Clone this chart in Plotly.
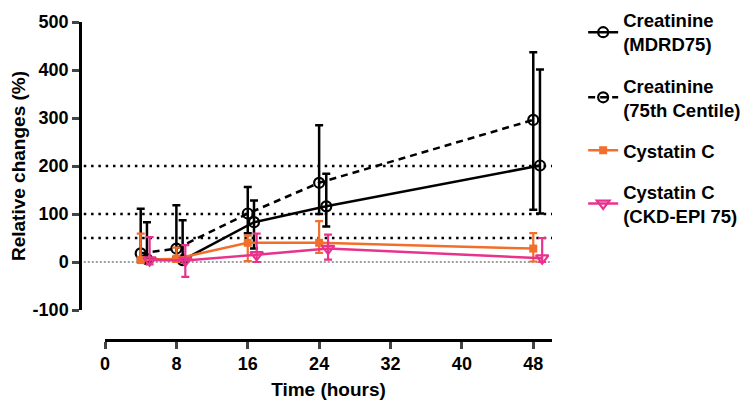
import plotly.graph_objects as go

# ---- data ----
hours = [4, 8, 16, 24, 48]
x_ticks = [0, 8, 16, 24, 32, 40, 48]
y_ticks = [-100, 0, 100, 200, 300, 400, 500]
y_tick_labels = ["-100", "0", "100", "200", "300", "400", "500"]
ref_levels = [50, 100, 200]

# Prism-style horizontal nudges of each series
mdrd_x = [4.7, 8.7, 16.7, 24.8, 48.75]
c75_x = [4.0, 8.0, 16.0, 24.0, 48.0]
cys_x = [4.0, 8.0, 16.0, 24.0, 48.0]
ckd_x = [5.0, 9.0, 17.0, 25.0, 49.0]

mdrd_y = [6, 4, 83, 116, 201]
mdrd_hi = [83, 87, 128, 184, 401]
mdrd_lo = [0, 0, 28, 74, 101]

c75_y = [18, 28, 101, 165, 296]
c75_hi = [111, 118, 156, 285, 437]
c75_lo = [5, 10, 60, 100, 109]

cys_y = [4, 7, 40, 40, 28]
cys_hi = [59, 30, 55, 85, 60]
cys_lo = [0, 0, 2, 19, 1]

ckd_y = [4, 3, 15, 28, 8]
ckd_hi = [52, 35, 59, 57, 50]
ckd_lo = [-5, -31, 0, 5, 0]

names = ["Creatinine<br>(MDRD75)", "Creatinine<br>(75th Centile)",
         "Cystatin C", "Cystatin C<br>(CKD-EPI 75)"]

BLACK = "#000000"
ORANGE = "#F26F2B"
PINK = "#E8338C"
FONT = "Liberation Sans, Arial, sans-serif"

def err(y, hi, lo, color, thick):
    return dict(type="data", symmetric=False,
                array=[h - v for h, v in zip(hi, y)],
                arrayminus=[v - l for v, l in zip(y, lo)],
                color=color, thickness=thick, width=4)

fig = go.Figure()
fig.add_trace(go.Scatter(
    x=mdrd_x, y=mdrd_y, name=names[0], legendgroup="a", mode="lines+markers",
    line=dict(color=BLACK, width=2.5),
    marker=dict(symbol="circle-open", size=10, color=BLACK, line=dict(width=2.2)),
    error_y=err(mdrd_y, mdrd_hi, mdrd_lo, BLACK, 2.5)))
fig.add_trace(go.Scatter(
    x=c75_x, y=c75_y, name=names[1], legendgroup="b", mode="lines+markers",
    line=dict(color=BLACK, width=2.5, dash="7px,5px"),
    marker=dict(symbol="circle-open", size=10, color=BLACK, line=dict(width=2.2)),
    error_y=err(c75_y, c75_hi, c75_lo, BLACK, 2.5)))
fig.add_trace(go.Scatter(
    x=cys_x, y=cys_y, name=names[2], legendgroup="c", mode="lines+markers",
    line=dict(color=ORANGE, width=2.5),
    marker=dict(symbol="square", size=8, color=ORANGE),
    error_y=err(cys_y, cys_hi, cys_lo, ORANGE, 2.2)))
fig.add_trace(go.Scatter(
    x=ckd_x, y=ckd_y, name=names[3], legendgroup="d", mode="lines+markers",
    line=dict(color=PINK, width=2.5),
    marker=dict(symbol="triangle-down-open", size=11, color=PINK, line=dict(width=2.2)),
    error_y=err(ckd_y, ckd_hi, ckd_lo, PINK, 2.2)))

shapes = []
for lv in ref_levels:
    shapes.append(dict(type="line", xref="paper", yref="y", x0=0.008, x1=1,
                       y0=lv, y1=lv, layer="below",
                       line=dict(color=BLACK, width=2.5, dash="2.5px,4.8px")))
shapes.append(dict(type="line", xref="paper", yref="y", x0=0.008, x1=1,
                   y0=0, y1=0, layer="below",
                   line=dict(color="#808080", width=1.5, dash="2px,2px")))

# page body has an 8px margin, so the figure is drawn 8px smaller
fig.update_layout(
    width=745, height=392,
    margin=dict(l=72, r=201, t=14, b=60, autoexpand=False),
    paper_bgcolor="white", plot_bgcolor="white",
    font=dict(family=FONT, size=18, color=BLACK, weight="bold"),
    shapes=shapes,
    xaxis=dict(domain=[0.053, 1], range=[0, 50.1], anchor="free", position=0,
               automargin=False,
               tickvals=x_ticks, ticks="outside", ticklen=7, tickwidth=2.5,
               showline=True, linewidth=2.5, linecolor=BLACK, showgrid=False,
               zeroline=False, tickfont=dict(size=18, weight="bold"),
               title=dict(text="Time (hours)", font=dict(size=19, weight="bold"))),
    yaxis=dict(domain=[30 / 318, 1], range=[-100, 500], anchor="free", position=0,
               automargin=False,
               tickvals=y_ticks, ticktext=y_tick_labels,
               ticks="outside", ticklen=7, tickwidth=2.5,
               showline=True, linewidth=2.5, linecolor=BLACK, showgrid=False,
               zeroline=False, tickfont=dict(size=18, weight="bold"),
               title=dict(text="Relative changes (%)", font=dict(size=19, weight="bold"))),
    legend=dict(x=1.066, y=1.064, xanchor="left", yanchor="top",
                font=dict(size=18.5, weight="bold"), tracegroupgap=14,
                bgcolor="rgba(0,0,0,0)", itemwidth=30, maxheight=1),
    showlegend=True,
)

fig.write_html("out.html")
